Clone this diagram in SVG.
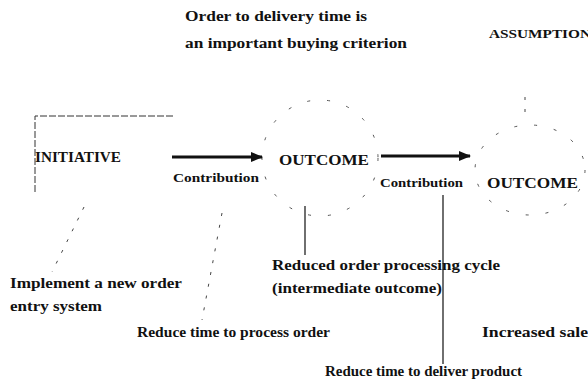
<svg xmlns="http://www.w3.org/2000/svg" width="588" height="381" viewBox="0 0 588 381">
<defs>
<style>
text{font-family:"Liberation Serif","Times New Roman",serif;font-weight:bold;fill:#111}
.t{font-size:14px}
.n{font-size:15px}
.c{font-size:12.5px}
.d{fill:none;stroke:#444;stroke-width:1;stroke-dasharray:3 9}
.e{fill:none;stroke:#555;stroke-width:1;stroke-dasharray:3 17}
.b{fill:none;stroke:#333;stroke-width:1;stroke-dasharray:7 2}
.s{fill:none;stroke:#222;stroke-width:1.3}
.a{fill:none;stroke:#111;stroke-width:3}
</style>
<marker id="ah" markerWidth="12" markerHeight="10" refX="11" refY="5" orient="auto" markerUnits="userSpaceOnUse">
<path d="M0,0 L12,5 L0,10 Z" fill="#111"/>
</marker>
</defs>
<rect width="588" height="381" fill="#fff"/>
<g id="assumption-text">
<text class="t" x="185" y="21" textLength="182" lengthAdjust="spacingAndGlyphs">Order to delivery time is</text>
<text class="t" x="185" y="48" textLength="222" lengthAdjust="spacingAndGlyphs">an important buying criterion</text>
</g>
<g id="assumption">
<text class="c" x="489" y="38" textLength="102" lengthAdjust="spacingAndGlyphs">ASSUMPTION</text>
</g>
<g id="initiative">
<path class="b" d="M35,192 L35,116 L173,116"/>
<text class="n" x="35" y="162" textLength="86" lengthAdjust="spacingAndGlyphs">INITIATIVE</text>
</g>
<g id="outcome1">
<ellipse class="e" cx="320" cy="158" rx="58" ry="58"/>
<text class="n" x="279" y="165" textLength="90" lengthAdjust="spacingAndGlyphs">OUTCOME</text>
</g>
<g id="outcome2">
<ellipse class="e" cx="530" cy="170" rx="55" ry="45"/>
<text class="n" x="487" y="188" textLength="91" lengthAdjust="spacingAndGlyphs">OUTCOME</text>
</g>
<g id="connectors">
<line class="a" x1="172" y1="157" x2="262" y2="157" marker-end="url(#ah)"/>
<line class="a" x1="381" y1="156" x2="470" y2="156" marker-end="url(#ah)"/>
<text class="c" x="173" y="182" textLength="86" lengthAdjust="spacingAndGlyphs">Contribution</text>
<text class="c" x="380" y="187" textLength="83" lengthAdjust="spacingAndGlyphs">Contribution</text>
<line class="d" x1="525" y1="97" x2="525" y2="118"/>
<line class="s" x1="305" y1="206" x2="305" y2="255"/>
<line class="s" x1="443" y1="195" x2="443" y2="364" stroke-width="1"/>
<line class="d" x1="84" y1="207" x2="52" y2="272"/>
<line class="d" x1="222" y1="213" x2="202" y2="320"/>
</g>
<g id="implement">
<text class="t" x="10" y="288" textLength="172" lengthAdjust="spacingAndGlyphs">Implement a new order</text>
<text class="t" x="10" y="311" textLength="92" lengthAdjust="spacingAndGlyphs">entry system</text>
</g>
<g id="reduced-cycle">
<text class="t" x="272" y="270" textLength="228" lengthAdjust="spacingAndGlyphs">Reduced order processing cycle</text>
<text class="t" x="272" y="293" textLength="170" lengthAdjust="spacingAndGlyphs">(intermediate outcome)</text>
</g>
<g id="reduce-process">
<text class="t" x="137" y="337" textLength="193" lengthAdjust="spacingAndGlyphs">Reduce time to process order</text>
</g>
<g id="increased-sales">
<text class="t" x="482" y="337" textLength="106" lengthAdjust="spacingAndGlyphs">Increased sale</text>
</g>
<g id="reduce-deliver">
<text class="t" x="325" y="376" textLength="197" lengthAdjust="spacingAndGlyphs">Reduce time to deliver product</text>
</g>
</svg>
